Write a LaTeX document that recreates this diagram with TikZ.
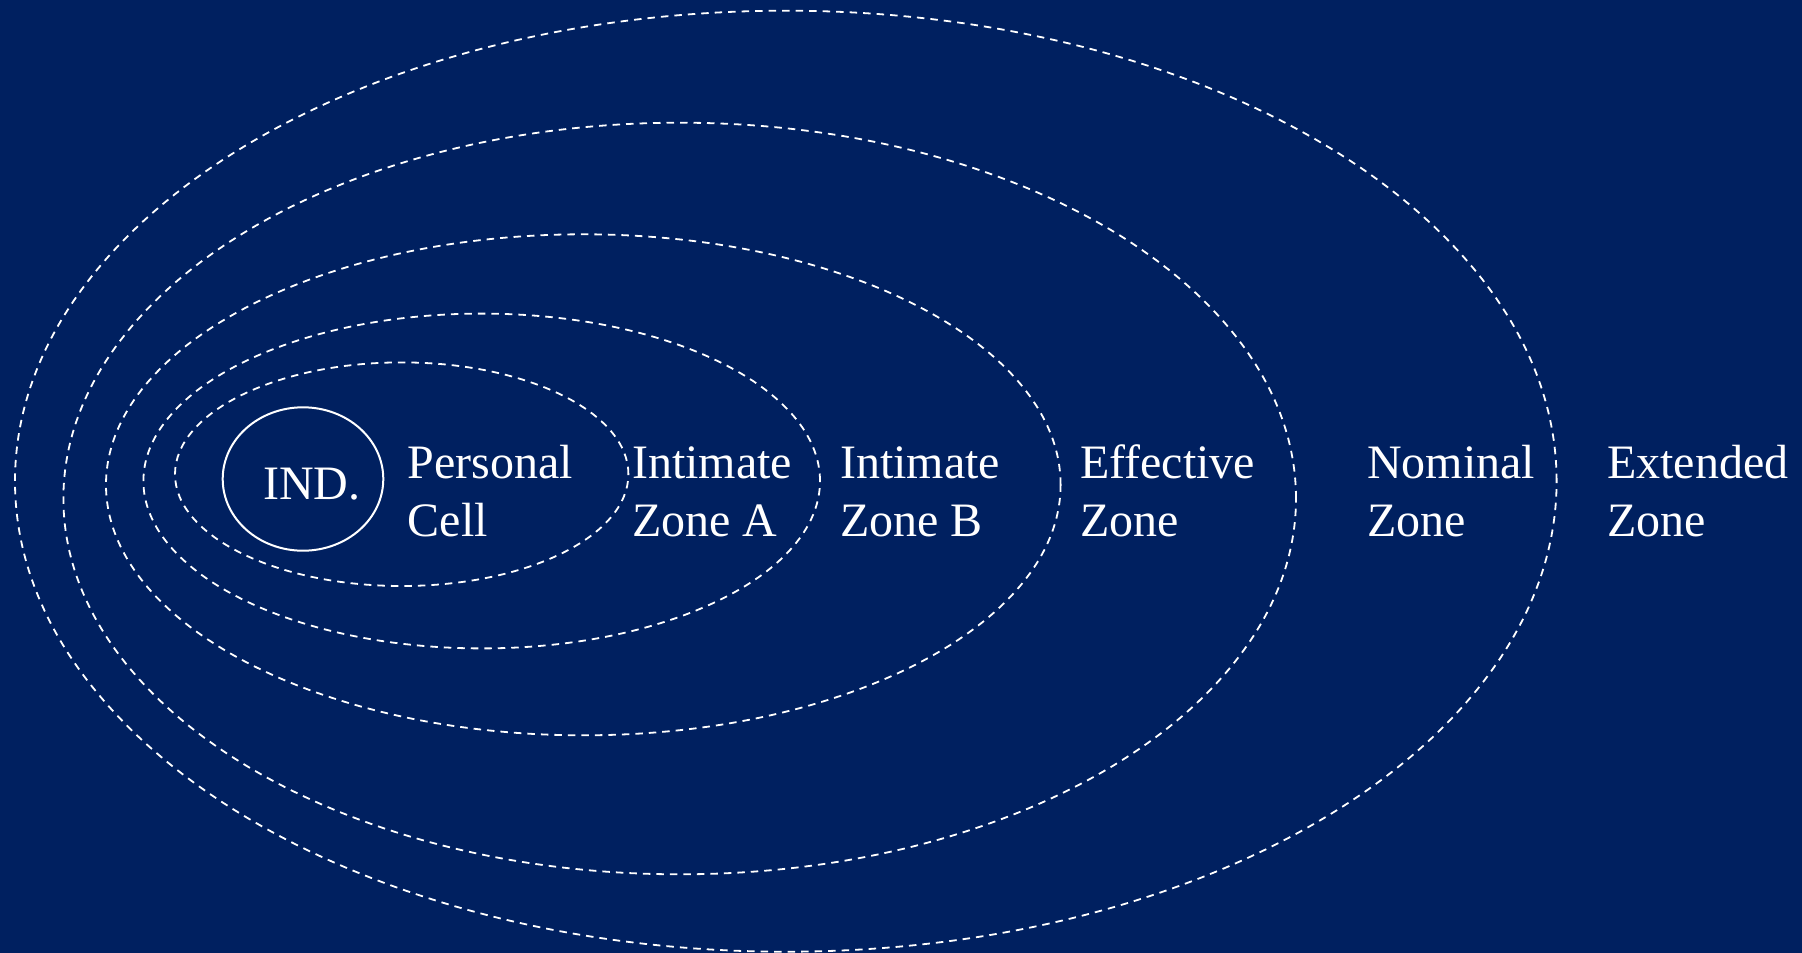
\documentclass[tikz,border=0pt]{standalone}
\usepackage{fontspec}
\setmainfont{Liberation Serif}
\usetikzlibrary{shapes.geometric}
\definecolor{navy}{HTML}{002060}
\tikzset{
  zoneline/.style={draw=white, line width=1.8pt, dash pattern=on 7.5pt off 6pt},
  zonelabel/.style={anchor=base west, inner sep=0pt, text=white,
    font=\fontsize{48}{58.3}\selectfont},
  indnode/.style={ellipse, draw=white, line width=2pt, inner sep=0pt, text=white,
    font=\fontsize{48}{58.3}\selectfont}
}
\newcommand{\twolines}[2]{\begin{tabular}[t]{@{}l@{}}#1\\#2\end{tabular}}
\begin{document}
\begin{tikzpicture}[x=1pt, y=-1pt]
\useasboundingbox (0,0) rectangle (1802,953);
\fill[navy] (0,0) rectangle (1802,953);
% zones, outermost first
\draw[zoneline] (785.8,481.2) ellipse [x radius=770.8pt, y radius=470.5pt];
\draw[zoneline] (679.7,498.5) ellipse [x radius=616.3pt, y radius=375.8pt];
\draw[zoneline] (583.3,484.8) ellipse [x radius=477.3pt, y radius=250.5pt];
\draw[zoneline] (481.7,481.0) ellipse [x radius=338.3pt, y radius=167.4pt];
\draw[zoneline] (401.7,474.2) ellipse [x radius=226.7pt, y radius=111.8pt];
% individual
\node[indnode, minimum width=160.6pt, minimum height=143.4pt] (ind) at (303,479) {};
\node[zonelabel] (indtext) at (263,499.3) {IND.};
% labels
\node[zonelabel] (personal) at (407.5,478.5) {\twolines{Personal}{Cell}};
\node[zonelabel] (intA) at (632,478.5) {\twolines{Intimate}{Zone A}};
\node[zonelabel] (intB) at (840,478.5) {\twolines{Intimate}{Zone B}};
\node[zonelabel] (eff) at (1080,478.5) {\twolines{Effective}{Zone}};
\node[zonelabel] (nom) at (1367,478.5) {\twolines{Nominal}{Zone}};
\node[zonelabel] (ext) at (1607,478.5) {\twolines{Extended}{Zone}};
\end{tikzpicture}
\end{document}
